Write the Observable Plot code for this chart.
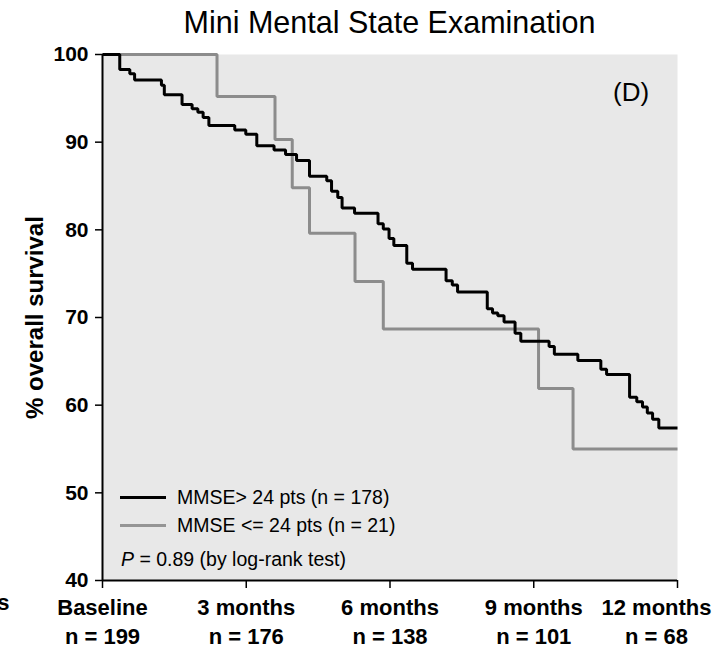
<!DOCTYPE html>
<html>
<head>
<meta charset="utf-8">
<script src="https://cdn.jsdelivr.net/npm/d3@7"></script>
<script src="https://cdn.jsdelivr.net/npm/@observablehq/plot@0.6"></script>
<style>
  html, body { margin: 0; padding: 0; background: #fff; overflow: hidden; }
  #wrap { position: relative; width: 721px; height: 651px; font-family: "Liberation Sans", Arial, sans-serif; color: #000; }
  #title { height: 44px; padding-left: 102px; width: 575px; text-align: center; font-size: 30.5px; line-height: 44px; }
  .abs { position: absolute; white-space: nowrap; }
  .swatch { position: absolute; height: 3px; width: 46px; }
  .leg { font-size: 19.5px; line-height: 19.5px; }
</style>
</head>
<body>
<div id="wrap">
  <div id="title">Mini Mental State Examination</div>
  <div id="chart"></div>
  <div class="abs" style="left:613px; top:79px; font-size:26px; line-height:26px;">(D)</div>
  <div class="swatch" style="left:120px; top:496px; background:#000;"></div>
  <div class="abs leg" style="left:177px; top:488px;">MMSE&gt; 24 pts (n = 178)</div>
  <div class="swatch" style="left:120px; top:524px; background:#959595;"></div>
  <div class="abs leg" style="left:177px; top:516px;">MMSE &lt;= 24 pts (n = 21)</div>
  <div class="abs leg" style="left:121px; top:550px;"><i>P</i> = 0.89 (by log-rank test)</div>
</div>
<script>
// Kaplan–Meier survival, MMSE > 24 points (n = 178): step times (months) and % surviving
const highMonths = [0, 0.36, 0.57, 0.67, 1.23, 1.29, 1.66, 1.87, 1.99, 2.10,
  2.22, 2.76, 2.99, 3.22, 3.58, 3.82, 4.05, 4.32, 4.68, 4.78,
  4.91, 5.00, 5.26, 5.75, 5.86, 5.98, 6.08, 6.35, 6.47, 7.17,
  7.30, 7.41, 8.03, 8.14, 8.25, 8.38, 8.61, 8.73, 9.32, 9.43,
  9.92, 10.40, 10.52, 11.00, 11.15, 11.27, 11.37, 11.48, 11.61, 12];
const highPct = [100, 98.3, 97.8, 97.1, 96.5, 95.4, 94.3, 93.8, 93.4, 92.8,
  91.9, 91.4, 90.9, 89.6, 89.1, 88.6, 87.9, 86.1, 85.6, 84.4,
  83.7, 82.5, 81.9, 80.7, 80.1, 79.0, 78.2, 76.2, 75.5, 74.2,
  73.7, 72.9, 71.0, 70.5, 70.2, 69.5, 68.2, 67.3, 66.7, 65.8,
  65.1, 64.1, 63.5, 60.9, 60.4, 59.8, 59.1, 58.4, 57.4, 57.4];

// MMSE <= 24 points (n = 21)
const lowMonths = [0, 2.39, 3.60, 3.96, 4.32, 5.27, 5.86, 9.10, 9.82, 12];
const lowPct = [100, 95.2, 90.3, 84.8, 79.6, 74.1, 68.7, 61.9, 55.0, 55.0];

// Axis ticks and the number at risk under each time point
const yTicks = [40, 50, 60, 70, 80, 90, 100];
const xTickMonths = [0, 3, 6, 9, 12];
const xTickNames = ["Baseline", "3 months", "6 months", "9 months", "12 months"];
const xTickAtRisk = [199, 176, 138, 101, 68];

const high = highMonths.map((m, i) => ({month: m, pct: highPct[i]}));
const low = lowMonths.map((m, i) => ({month: m, pct: lowPct[i]}));
const xLabels = xTickMonths.map((m, i) => ({month: m, name: xTickNames[i], n: xTickAtRisk[i]}));

const labelText = d => `${d.name}\nn = ${d.n}`;
const labelStyle = {x: "month", frameAnchor: "bottom", text: labelText, lineAnchor: "top",
  dy: 14, lineHeight: 1.32, fontSize: 22, fontWeight: "bold", fill: "#000"};

const chart = Plot.plot({
  width: 721,
  height: 607,
  marginLeft: 102,
  marginRight: 44,
  marginTop: 10,
  marginBottom: 71,
  style: {fontFamily: "'Liberation Sans', Arial, sans-serif", color: "#000", background: "transparent", overflow: "visible"},
  x: {domain: [0, 12]},
  y: {domain: [40, 100]},
  marks: [
    Plot.frame({fill: "#e8e8e8", stroke: null}),
    Plot.line(low, {x: "month", y: "pct", curve: "step-after", stroke: "#8c8c8c", strokeWidth: 3,
      strokeLinejoin: "miter", strokeLinecap: "butt"}),
    Plot.line(high, {x: "month", y: "pct", curve: "step-after", stroke: "#000", strokeWidth: 3,
      strokeLinejoin: "miter", strokeLinecap: "butt"}),
    Plot.ruleX([0], {stroke: "#000", strokeWidth: 2}),
    Plot.ruleY([40], {stroke: "#000", strokeWidth: 2}),
    Plot.axisY({ticks: yTicks, tickSize: 7, tickPadding: 7, fontSize: 21, fontWeight: "bold",
      strokeWidth: 1.5, label: null}),
    Plot.axisX({ticks: xTickMonths, tickSize: 8, tickFormat: () => "", strokeWidth: 1.5, label: null}),
    Plot.text(xLabels.filter(d => d.month < 12), labelStyle),
    Plot.text(xLabels.filter(d => d.month === 12), {...labelStyle, dx: -21}),
    Plot.text(["months"], {frameAnchor: "bottom-left", dx: -93, dy: 14, lineAnchor: "top",
      textAnchor: "end", fontSize: 22, fontWeight: "bold", fill: "#000"}),
    Plot.text(["% overall survival"], {frameAnchor: "left", dx: -67, rotate: -90, textAnchor: "middle",
      fontSize: 24, fontWeight: "bold", fill: "#000"})
  ]
});
document.getElementById("chart").appendChild(chart);
</script>
</body>
</html>
